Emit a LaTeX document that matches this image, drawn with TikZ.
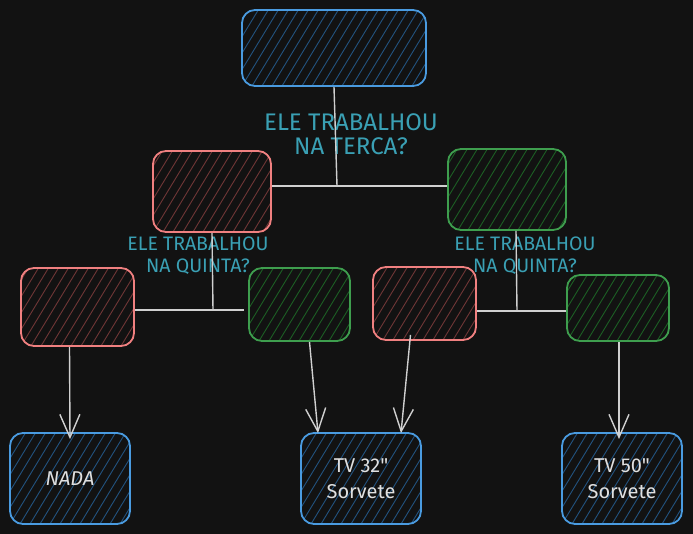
\documentclass[tikz,border=0pt]{standalone}
\usepackage{fontspec}
\setmainfont{Fira Sans}
\usetikzlibrary{arrows.meta,calc}
\definecolor{bg}{HTML}{121212}
\definecolor{bstroke}{HTML}{4A9BE0}
\definecolor{bhatch}{HTML}{22527E}
\definecolor{rstroke}{HTML}{F08080}
\definecolor{rhatch}{HTML}{6E3636}
\definecolor{gstroke}{HTML}{3E9E4E}
\definecolor{ghatch}{HTML}{1C5E24}
\definecolor{lbl}{HTML}{3AA0B4}
\definecolor{txt}{HTML}{E0E0E0}
\definecolor{conn}{HTML}{D0D0D0}
\tikzset{
  hatchfill/.style={path picture={
    \foreach \k in {0,...,34}{
      \draw[#1,line width=0.9pt] ($(path picture bounding box.south west)+(\k*10pt-80pt,0pt)$) -- ++(70pt,115pt);
    }}},
  boxbase/.style={line width=1.8pt, rounded corners=13pt, inner sep=0pt, text=txt, font=\fontsize{20}{26}\selectfont, align=center},
  bluebox/.style={boxbase, draw=bstroke, hatchfill=bhatch},
  redbox/.style={boxbase, draw=rstroke, hatchfill=rhatch},
  greenbox/.style={boxbase, draw=gstroke, hatchfill=ghatch},
  conline/.style={draw=conn, line width=1.4pt},
  conarrow/.style={conline, -{Straight Barb[length=23pt,width=20pt,line width=1.4pt]}},
  biglabel/.style={text=lbl, font=\fontsize{24}{24}\selectfont, align=center},
  smalllabel/.style={text=lbl, font=\fontsize{19.5}{22}\selectfont, align=center},
}
\begin{document}
\begin{tikzpicture}[x=1pt,y=-1pt]
\fill[bg] (0,0) rectangle (693,534);
\useasboundingbox (0,0) rectangle (693,534);

% boxes
\node[bluebox, minimum width=184pt, minimum height=76pt] (top) at (334,48) {};
\node[redbox, minimum width=118pt, minimum height=81pt] (r1) at (212,191.5) {};
\node[greenbox, minimum width=118pt, minimum height=81pt] (g1) at (507,189.5) {};
\node[redbox, minimum width=113pt, minimum height=78pt] (r2) at (77.5,307) {};
\node[greenbox, minimum width=101pt, minimum height=73pt] (g2) at (299.5,304.5) {};
\node[redbox, minimum width=103pt, minimum height=73pt] (r3) at (424.5,303.5) {};
\node[greenbox, minimum width=102pt, minimum height=66pt] (g3) at (618,308) {};
\node[bluebox, minimum width=120pt, minimum height=91pt] (nada) at (70,478.5) {\itshape NADA};
\node[bluebox, minimum width=120pt, minimum height=91pt] (tv32) at (361,478.5) {TV 32\textquotedbl\\Sorvete};
\node[bluebox, minimum width=120pt, minimum height=91pt] (tv50) at (622,478.5) {TV 50\textquotedbl\\Sorvete};

% labels
\node[biglabel] (l1) at (351,134) {ELE TRABALHOU\\NA TERCA?};
\node[smalllabel] (l2) at (198,256) {ELE TRABALHOU\\NA QUINTA?};
\node[smalllabel] (l3) at (525,256) {ELE TRABALHOU\\NA QUINTA?};

% junctions
\coordinate (j1) at (337,186);
\coordinate (j2) at (213,310);
\coordinate (j3) at (517,311);

% connectors
\draw[conline] (top.south) -- (j1);
\draw[conline] (r1.east |- j1) -- (g1.west |- j1);
\draw[conline] (r1.south) -- (j2);
\draw[conline] (r2.east |- j2) -- ([xshift=-4pt]g2.west |- j2);
\draw[conline] ([xshift=9pt]g1.south) -- (j3);
\draw[conline] (r3.east |- j3) -- (g3.west |- j3);

% arrows
\draw[conarrow] ([xshift=-8pt]r2.south) -- ([yshift=-7pt]nada.north);
\draw[conarrow] ([xshift=10pt]g2.south) -- ([xshift=-43pt,yshift=-1pt]tv32.north);
\draw[conarrow] ([xshift=-14pt,yshift=6pt]r3.south) -- ([xshift=40pt,yshift=-1pt]tv32.north);
\draw[conarrow] ([xshift=1pt]g3.south) -- ([xshift=-3pt,yshift=-7pt]tv50.north);
\end{tikzpicture}
\end{document}
